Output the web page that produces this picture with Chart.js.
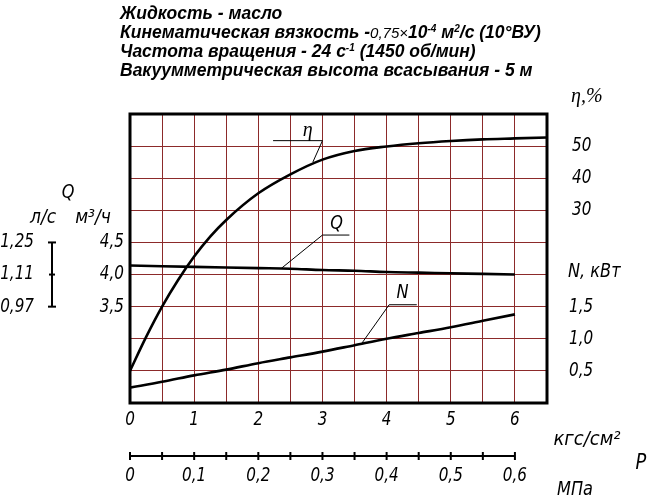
<!DOCTYPE html>
<html>
<head>
<meta charset="utf-8">
<title>Характеристика насоса</title>
<script src="https://cdn.jsdelivr.net/npm/chart.js@4.4.1/dist/chart.umd.min.js"></script>
<style>
	body { margin: 0; background: #fff; }
	#wrap { position: relative; width: 665px; height: 497px; }
	#head {
		position: absolute; left: 120px; top: 4px;
		font: italic bold 17.5px "Liberation Sans", Arial, sans-serif;
		line-height: 19px; color: #000; white-space: nowrap;
	}
	#head sup { font-size: 10px; line-height: 0; vertical-align: 6px; }
	#head .thin { font-weight: normal; font-size: 15px; }
</style>
</head>
<body>
<div id="wrap">
	<canvas id="myChart" width="665" height="497"></canvas>
	<div id="head">
		<div>Жидкость - масло</div>
		<div>Кинематическая вязкость -<span class="thin">0,75×</span>10<sup>-4</sup> м<sup>2</sup>/с (10°ВУ)</div>
		<div>Частота вращения - 24 с<sup>-1</sup> (1450 об/мин)</div>
		<div>Вакуумметрическая высота всасывания - 5 м</div>
	</div>
</div>
<script>
// Data, P in kgf/cm2
const pressure = [0, 0.5, 1, 1.5, 2, 2.5, 3, 3.5, 4, 4.5, 5, 5.5, 6];
const flowM3h = [4.14, 4.13, 4.12, 4.11, 4.10, 4.09, 4.07, 4.06, 4.04, 4.03, 4.02, 4.01, 4.00];
const powerKw = [0.24, 0.33, 0.43, 0.52, 0.62, 0.71, 0.80, 0.90, 1.00, 1.09, 1.18, 1.28, 1.38];
const pressureEta = [0, 0.25, 0.5, 0.75, 1, 1.25, 1.5, 2, 2.5, 3, 3.5, 4, 4.5, 5, 5.5, 6, 6.5];
const efficiency = [-20, -9.5, 0, 8.3, 15.6, 21.8, 27, 35.3, 41.2, 45.8, 48.5, 49.9, 50.9, 51.6, 52.1, 52.4, 52.7];

// tick labels
const pTicks = [0, 1, 2, 3, 4, 5, 6];
const mpaTicks = [0, 0.05, 0.1, 0.15, 0.2, 0.25, 0.3, 0.35, 0.4, 0.45, 0.5, 0.55, 0.6];
const mpaLabels = ["0", "0,1", "0,2", "0,3", "0,4", "0,5", "0,6"];
const qTicks = [3.5, 4.0, 4.5];
const qLabels = ["3,5", "4,0", "4,5"];
const qLsLabels = ["0,97", "1,11", "1,25"];
const etaTicks = [30, 40, 50];
const nTicks = [0.5, 1.0, 1.5];
const nLabels = ["0,5", "1,0", "1,5"];

const gost = 'italic 19px "DejaVu Sans", sans-serif';
const serif = 'italic 20px "Liberation Serif", "DejaVu Serif", serif';
const gridRed = "#8c2a2a";
const narrow = 0.8; // digits of the drawing font are narrow

function toPoints(xs, ys) {
	return xs.map((x, i) => ({ x: x, y: ys[i] }));
}

function text(ctx, str, x, y, font, align, sx) {
	ctx.save();
	ctx.font = font;
	ctx.textAlign = align || "center";
	ctx.textBaseline = "middle";
	ctx.fillStyle = "#000";
	ctx.translate(x, y);
	ctx.scale(sx || 1, 1);
	ctx.fillText(str, 0, 0);
	ctx.restore();
}

function line(ctx, pts, width) {
	ctx.beginPath();
	ctx.lineWidth = width;
	ctx.strokeStyle = "#000";
	pts.forEach((p, i) => (i ? ctx.lineTo(p[0], p[1]) : ctx.moveTo(p[0], p[1])));
	ctx.stroke();
}

// leader lines for curve names, in data units of each curve's axis
const leaders = [
	{ name: "η", axis: "yEta", font: serif, pts: [[2.23, 51.7], [3.0, 51.7], [2.85, 45.0]], label: [2.77, 54.8] },
	{ name: "Q", axis: "y", font: gost, pts: [[3.42, 4.615], [3.0, 4.615], [2.36, 4.097]], label: [3.22, 4.78] },
	{ name: "N", axis: "yN", font: gost, pts: [[4.47, 1.53], [4.04, 1.53], [3.61, 0.925]], label: [4.25, 1.71] },
];

const decorPlugin = {
	id: "decor",
	afterDatasetsDraw(chart) {
		const ctx = chart.ctx;
		const a = chart.chartArea;
		const x = chart.scales.x;
		const xm = chart.scales.xMpa;
		const yq = chart.scales.y;
		const ye = chart.scales.yEta;
		const yn = chart.scales.yN;
		ctx.save();

		// frame
		ctx.lineWidth = 3;
		ctx.strokeStyle = "#000";
		ctx.strokeRect(a.left, a.top, a.right - a.left, a.bottom - a.top);

		// leaders
		leaders.forEach((l) => {
			const sy = chart.scales[l.axis];
			line(ctx, l.pts.map((p) => [x.getPixelForValue(p[0]), sy.getPixelForValue(p[1])]), 1);
			text(ctx, l.name, x.getPixelForValue(l.label[0]), sy.getPixelForValue(l.label[1]), l.font, "center", l.font === gost ? 0.85 : 1);
		});

		// left: Q axis
		text(ctx, "Q", 68, yq.getPixelForValue(5.27), gost, "center", 0.85);
		text(ctx, "л/с", 43, yq.getPixelForValue(4.88), gost, "center", 0.9);
		text(ctx, "м³/ч", 93, yq.getPixelForValue(4.88), gost, "center", 0.9);
		qTicks.forEach((v, i) => {
			const py = yq.getPixelForValue(v);
			text(ctx, qLabels[i], 124, py, gost, "right", narrow);
			text(ctx, qLsLabels[i], 34, py, gost, "right", narrow);
		});
		const bx = 52;
		const yTop = yq.getPixelForValue(qTicks[2]);
		const yBot = yq.getPixelForValue(qTicks[0]);
		line(ctx, [[bx, yTop], [bx, yBot]], 2);
		line(ctx, [[bx - 4, yTop], [bx + 4, yTop]], 2);
		line(ctx, [[bx - 4, yBot], [bx + 4, yBot]], 2);
		line(ctx, [[bx - 3, yq.getPixelForValue(qTicks[1])], [bx + 3, yq.getPixelForValue(qTicks[1])]], 2);

		// right: eta and N
		text(ctx, "η,%", 571, ye.getPixelForValue(65.3), serif, "left");
		etaTicks.forEach((v) => text(ctx, String(v), 572, ye.getPixelForValue(v), gost, "left", narrow));
		text(ctx, "N, кВт", 568, yn.getPixelForValue(2.04), gost, "left", 0.85);
		nTicks.forEach((v, i) => text(ctx, nLabels[i], 569, yn.getPixelForValue(v), gost, "left", narrow));

		// bottom: kgf/cm2
		pTicks.forEach((v) => text(ctx, String(v), x.getPixelForValue(v), a.bottom + 17, gost, "center", narrow));
		text(ctx, "кгс/см²", 587, a.bottom + 37, gost, "center", 0.95);

		// bottom: MPa scale
		const my = a.bottom + 53;
		line(ctx, [[xm.getPixelForValue(0), my], [xm.getPixelForValue(0.6), my]], 2);
		mpaTicks.forEach((v) => {
			const px = xm.getPixelForValue(v);
			line(ctx, [[px, my - 4], [px, my + 4]], 2);
		});
		mpaLabels.forEach((s, i) => text(ctx, s, xm.getPixelForValue(i / 10), a.bottom + 73, gost, "center", narrow));
		text(ctx, "МПа", 575, a.bottom + 87, gost, "center", 0.85);
		text(ctx, "P", 641, a.bottom + 61, 'italic 21px "DejaVu Sans", sans-serif', "center", 0.85);

		ctx.restore();
	},
};

const ctx = document.getElementById("myChart").getContext("2d");
const myChart = new Chart(ctx, {
	type: "line",
	data: {
		datasets: [
			{
				label: "η",
				data: toPoints(pressureEta, efficiency),
				yAxisID: "yEta",
			},
			{
				label: "Q",
				data: toPoints(pressure, flowM3h),
				yAxisID: "y",
			},
			{
				label: "N",
				data: toPoints(pressure, powerKw),
				yAxisID: "yN",
			},
		],
	},
	options: {
		responsive: false,
		animation: false,
		layout: { padding: { left: 130, top: 114, right: 118, bottom: 94 } },
		elements: {
			point: { radius: 0 },
			line: { borderColor: "#000", borderWidth: 2.6, fill: false, cubicInterpolationMode: "monotone" },
		},
		plugins: { legend: { display: false }, tooltip: { enabled: false } },
		scales: {
			x: {
				type: "linear",
				min: 0,
				max: 6.5,
				ticks: { display: false, stepSize: 0.5 },
				grid: { color: gridRed, lineWidth: 1, drawTicks: false },
				border: { display: false },
			},
			xMpa: {
				type: "linear",
				axis: "x",
				position: "bottom",
				min: 0,
				max: 0.65,
				display: false,
			},
			y: {
				min: 2,
				max: 6.5,
				ticks: { display: false, stepSize: 0.5 },
				grid: { color: gridRed, lineWidth: 1, drawTicks: false },
				border: { display: false },
			},
			yEta: { position: "right", min: -30, max: 60, display: false },
			yN: { position: "right", min: 0, max: 4.5, display: false },
		},
	},
	plugins: [decorPlugin],
});
</script>
</body>
</html>
